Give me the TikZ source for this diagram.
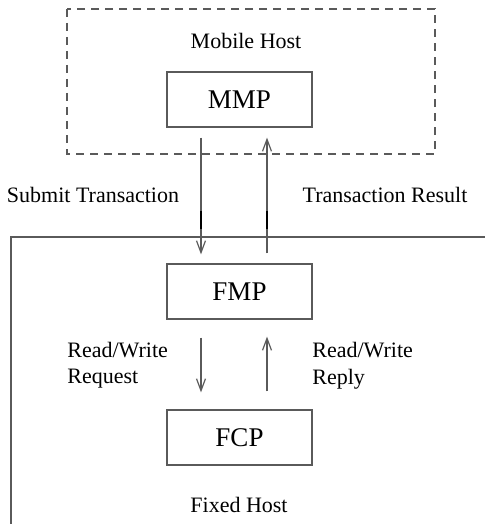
\documentclass[tikz,border=0pt]{standalone}
\usepackage{fontspec}
\setmainfont{Liberation Serif}
\usetikzlibrary{arrows.meta}
\definecolor{lc}{RGB}{90,90,90}
\begin{document}
\begin{tikzpicture}[x=0.5pt,y=-0.5pt,
  boxnode/.style={draw=lc,line width=0.6pt,minimum width=72.5pt,minimum height=27.5pt,inner sep=0pt,font=\fontsize{13.5}{16}\selectfont},
  lbl/.style={font=\fontsize{11}{13}\selectfont,inner sep=0pt},
  arr/.style={draw=lc,line width=0.6pt,-{Straight Barb[length=6pt,width=4.5pt]}},
  darkseg/.style={draw=black,line width=1.1pt}]
\useasboundingbox (0,0) rectangle (485,524);
\begin{scope}
\clip (0,0) rectangle (485,524);
% mobile host dashed frame
\draw[lc,line width=0.6pt,dash pattern=on 4pt off 3pt] (67,9) rectangle (435,154);
% fixed host frame
\draw[lc,line width=0.6pt] (11,530) -- (11,237) -- (490,237);
\end{scope}
\node[lbl] (mh) at (246,41) {Mobile Host};
\node[boxnode] (mmp) at (239.5,99.5) {MMP};
\node[boxnode] (fmp) at (239.5,291.5) {FMP};
\node[boxnode] (fcp) at (239.5,437.5) {FCP};
\node[lbl] (st) at (93,195) {Submit Transaction};
\node[lbl] (tr) at (385,195) {Transaction Result};
\node[lbl,anchor=west] (rw1) at (67,350) {Read/Write};
\node[lbl,anchor=west] (rq) at (67,379) {Request};
\node[lbl,anchor=west] (rw2) at (312,350) {Read/Write};
\node[lbl,anchor=west] (rp) at (312,379) {Reply};
\node[lbl] (fh) at (239,505) {Fixed Host};
% connectors
\draw[arr,shorten <=5pt,shorten >=4.5pt] ([xshift=-19.25pt]mmp.south) -- ([xshift=-19.25pt]fmp.north);
\draw[arr,shorten <=5pt,shorten >=5pt] ([xshift=13.75pt]fmp.north) -- ([xshift=13.75pt]mmp.south);
\draw[arr,shorten <=9pt,shorten >=8.5pt] ([xshift=-19.25pt]fmp.south) -- ([xshift=-19.25pt]fcp.north);
\draw[arr,shorten <=9pt,shorten >=8.5pt] ([xshift=13.75pt]fcp.north) -- ([xshift=13.75pt]fmp.south);
% dark overlap marks on the long connectors
\draw[darkseg] ([xshift=-19.25pt,yshift=-41.5pt]mmp.south) -- ++(0,18);
\draw[darkseg] ([xshift=13.75pt,yshift=-41.5pt]mmp.south) -- ++(0,18);
\end{tikzpicture}
\end{document}
